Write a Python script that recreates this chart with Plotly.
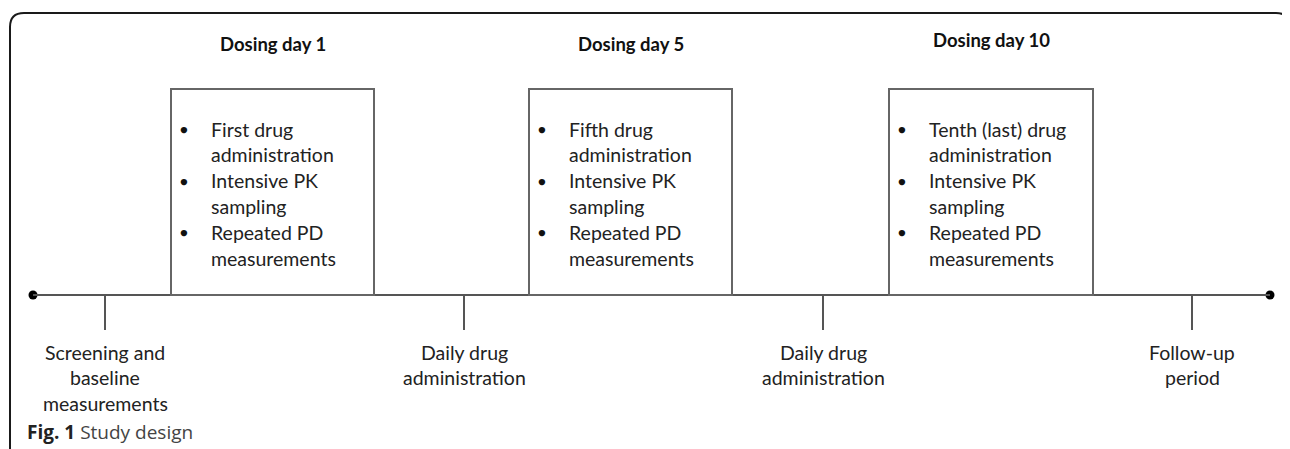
import plotly.graph_objects as go

W, H = 1290, 449

# ---- content ----
headings = ["Dosing day 1", "Dosing day 5", "Dosing day 10"]
box_items = [
    [["First drug", "administration"], ["Intensive PK", "sampling"], ["Repeated PD", "measurements"]],
    [["Fifth drug", "administration"], ["Intensive PK", "sampling"], ["Repeated PD", "measurements"]],
    [["Tenth (last) drug", "administration"], ["Intensive PK", "sampling"], ["Repeated PD", "measurements"]],
]
tick_labels = [
    ["Screening and", "baseline", "measurements"],
    ["Daily drug", "administration"],
    ["Daily drug", "administration"],
    ["Follow-up", "period"],
]
caption_bold = "Fig. 1"
caption_text = "Study design"

# ---- layout (pixel positions) ----
OFF = 8  # page body margin compensation
line_y = 295
line_x0, line_x1 = 33, 1270
box_x = [(171, 374), (529, 732), (889, 1093)]
box_top = 89
heading_y = [44, 44, 40]
tick_x = [105, 464, 823, 1192]
tick_len = 35
FONT = "Lato, 'Open Sans', sans-serif"
TXT = "#222222"
FS = 19.5
LH = 25.8

fig = go.Figure()
shapes = []
ann = []

# outer rounded frame
r = 14
x0f, y0f, x1f = 10, 13, 1290
shapes.append(dict(type="path", xref="x", yref="y",
    path=f"M {x0f} {H+20} L {x0f} {y0f+r} Q {x0f} {y0f} {x0f+r} {y0f} L {x1f-r} {y0f} Q {x1f} {y0f} {x1f} {y0f+r} L {x1f} {H+20}",
    line=dict(color="#1a1a1a", width=2)))

# timeline
shapes.append(dict(type="line", x0=line_x0, x1=line_x1, y0=line_y, y1=line_y,
                   line=dict(color="#555555", width=2)))
fig.add_trace(go.Scatter(x=[line_x0, line_x1], y=[line_y, line_y], mode="markers",
                         marker=dict(color="black", size=9), hoverinfo="skip", showlegend=False))

# boxes
for i, (bx0, bx1) in enumerate(box_x):
    shapes.append(dict(type="rect", x0=bx0, x1=bx1, y0=box_top, y1=line_y,
                       line=dict(color="#666666", width=2), fillcolor="rgba(0,0,0,0)"))
    ann.append(dict(x=(bx0 + bx1) / 2, y=heading_y[i], text=f"<b>{headings[i]}</b>",
                    showarrow=False, font=dict(family=FONT, size=18.5, color="#111111"),
                    xanchor="center", yanchor="middle"))
    yy = 129
    for item in box_items[i]:
        ann.append(dict(x=bx0 + 13, y=yy, text="●", showarrow=False,
                        font=dict(family=FONT, size=13, color="#111111"),
                        xanchor="center", yanchor="middle"))
        for ln in item:
            ann.append(dict(x=bx0 + 38, y=yy, text=ln, showarrow=False,
                            font=dict(family=FONT, size=FS, color=TXT),
                            xanchor="left", yanchor="middle"))
            yy += LH

# ticks and labels
for tx, lab in zip(tick_x, tick_labels):
    shapes.append(dict(type="line", x0=tx, x1=tx, y0=line_y, y1=line_y + tick_len,
                       line=dict(color="#555555", width=2)))
    for k, ln in enumerate(lab):
        ann.append(dict(x=tx, y=352 + k * LH, text=ln, showarrow=False,
                        font=dict(family=FONT, size=FS, color=TXT),
                        xanchor="center", yanchor="middle"))

# caption
ann.append(dict(x=25, y=432, text=f"<b>{caption_bold}</b> <span style='color:#444444'>{caption_text}</span>",
                showarrow=False,
                font=dict(family="'Open Sans', sans-serif", size=19, color="#222222"),
                xanchor="left", yanchor="middle"))

fig.update_layout(
    width=W, height=H, margin=dict(l=0, r=0, t=0, b=0),
    paper_bgcolor="white", plot_bgcolor="white",
    xaxis=dict(range=[OFF, W + OFF], visible=False, fixedrange=True),
    yaxis=dict(range=[H + OFF, OFF], visible=False, fixedrange=True),
    shapes=shapes, annotations=ann, showlegend=False,
)
fig.write_html("out.html")
